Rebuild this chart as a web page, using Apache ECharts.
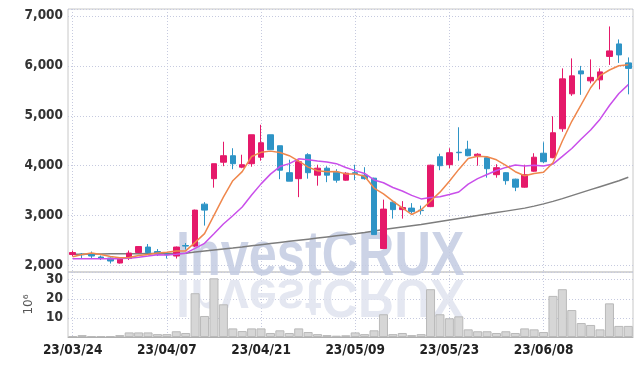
<!DOCTYPE html>
<html><head><meta charset="utf-8">
<script src="https://cdn.jsdelivr.net/npm/echarts@6/dist/echarts.min.js"></script>
<style>html,body{margin:0;padding:0;background:#fff}#c{width:642px;height:366px}</style>
</head><body><div id="c"></div>
<script>
const dates = ['23/03/24','23/03/27','23/03/28','23/03/29','23/03/30','23/03/31','23/04/03','23/04/04','23/04/05','23/04/06',
'23/04/07','23/04/10','23/04/11','23/04/12','23/04/13','23/04/14','23/04/17','23/04/18','23/04/19','23/04/20',
'23/04/21','23/04/24','23/04/25','23/04/26','23/04/27','23/04/28','23/05/02','23/05/03','23/05/04','23/05/08',
'23/05/09','23/05/10','23/05/11','23/05/12','23/05/15','23/05/16','23/05/17','23/05/18','23/05/19','23/05/22',
'23/05/23','23/05/24','23/05/25','23/05/26','23/05/30','23/05/31','23/06/01','23/06/02','23/06/05','23/06/07',
'23/06/08','23/06/09','23/06/12','23/06/13','23/06/14','23/06/15','23/06/16','23/06/19','23/06/20','23/06/21'];
const opens = [2220,2230,2230,2170,2150,2050,2140,2260,2370,2280,2230,2190,2400,2390,3230,3740,4070,4200,3970,4040,
4170,4620,4400,3860,3740,4220,3810,3950,3870,3710,3860,3810,3750,2340,3270,3120,3150,3110,3180,4180,
4020,4270,4330,4200,4160,3820,3860,3730,3570,3890,4250,4160,4740,5440,5900,5700,5720,6190,6440,6060];
const closes = [2260,2215,2190,2150,2090,2130,2250,2380,2260,2230,2215,2370,2390,3110,3110,4040,4200,4040,4020,4620,
4460,4320,3910,3690,4080,3860,3950,3810,3710,3850,3840,3740,2620,3130,3120,3160,3080,3100,4010,4000,
4260,4260,4200,4230,3940,3960,3700,3570,3820,4170,4080,4660,5740,5800,5840,5770,5880,6300,6220,5950];
const lows = [2180,2130,2140,2110,2040,2040,2110,2250,2250,2190,2140,2140,2320,2370,2800,3560,3990,3930,3950,3980,
4100,4320,3730,3690,3370,3740,3600,3670,3660,3700,3710,3720,2620,2340,2940,2940,3040,3020,3170,3910,
3950,4100,4190,4000,3760,3760,3620,3490,3560,3880,4050,4150,4680,5400,5420,5650,5530,6020,6060,5430];
const highs = [2300,2250,2280,2200,2160,2140,2300,2390,2430,2330,2250,2380,2450,3120,3270,4040,4480,4350,4220,4620,
4820,4620,4400,4120,4120,4250,4020,3990,3930,3870,4020,3970,3760,3320,3280,3290,3250,3200,4020,4240,
4350,4770,4500,4250,4170,4030,3870,3740,4020,4250,4470,4990,5950,6150,6000,6130,5950,6790,6530,6170];
const volumes = [0.5,1.0,0.5,0.5,0.4,1.0,2.4,2.4,2.4,1.5,1.5,3.0,2.1,22.9,11.0,30.7,17.1,4.5,3.1,4.5,
4.5,2.1,3.5,2.1,4.5,2.6,1.5,1.0,0.7,0.9,2.4,1.5,3.5,11.9,1.5,2.1,1.0,1.5,25.0,11.9,
9.8,10.8,4.0,3.0,3.0,2.1,3.0,2.1,4.5,4.0,2.6,21.5,25.0,14.1,7.3,6.3,4.0,17.6,5.8,5.8];
const ma5 = [2175,2220,2250,2220,2181,2155,2162,2200,2222,2250,2267,2291,2293,2463,2639,3004,3370,3700,3882,4184,
4268,4292,4266,4200,4092,3972,3898,3878,3882,3836,3832,3790,3552,3436,3290,3154,3022,3118,3294,3470,
3690,3926,4146,4190,4178,4118,4006,3880,3798,3844,3868,4060,4494,4890,5224,5562,5806,5918,6002,6024];
const ma10 = [2135,2135,2135,2135,2135,2138,2145,2165,2190,2216,2211,2227,2247,2343,2445,2636,2831,2997,3173,3412,
3636,3831,3983,4041,4138,4120,4095,4072,4041,3964,3902,3844,3715,3659,3563,3493,3406,3335,3365,3380,
3422,3474,3632,3742,3824,3904,3966,4013,3994,4011,3993,4033,4187,4344,4534,4715,4933,5206,5446,5624];
const ma60 = [2225,2228,2231,2233,2235,2236,2237,2238,2239,2240,2241,2242,2248,2270,2290,2310,2330,2350,2372,2395,
2418,2440,2462,2484,2506,2528,2550,2572,2594,2616,2638,2660,2690,2720,2745,2770,2795,2820,2850,2880,
2910,2940,2970,3000,3030,3060,3090,3120,3150,3190,3235,3285,3340,3400,3460,3520,3580,3640,3700,3770];
const watermark = 'InvestCRUX';
const volUnit = '10\u2076';

const candles = dates.map((d, i) => [opens[i], closes[i], lows[i], highs[i]]);
const FONT = '"DejaVu Sans Condensed", "Liberation Sans", sans-serif';
const UP = '#e5196a', DOWN = '#2e94c6';
const gridLine = {show: true, lineStyle: {color: '#c6cadf', width: 1, type: [1, 2]}};
const vSplit = {show: true, interval: 9, alignWithLabel: true, lineStyle: {color: '#c6cadf', width: 1, type: [1, 2]}};

const chart = echarts.init(document.getElementById('c'), null, {renderer: 'canvas'});
chart.setOption({
  animation: false,
  backgroundColor: '#ffffff',
  grid: [
    {left: 68, right: 9, top: 9, height: 263, show: true, borderColor: '#c8c8c8', borderWidth: 1, backgroundColor: 'transparent'},
    {left: 68, right: 9, top: 272, height: 65, show: true, borderColor: '#c8c8c8', borderWidth: 1, backgroundColor: 'transparent'}
  ],
  xAxis: [
    {type: 'category', gridIndex: 0, data: dates, boundaryGap: true,
     axisLine: {show: false}, axisTick: {show: false}, axisLabel: {show: false}, splitLine: vSplit},
    {type: 'category', gridIndex: 1, data: dates, boundaryGap: true,
     axisLine: {show: true, lineStyle: {color: '#b0b0b0'}}, axisTick: {show: false},
     axisLabel: {interval: 9, color: '#222', fontFamily: FONT, fontWeight: 'bold', fontSize: 13.5, margin: 6},
     splitLine: vSplit}
  ],
  yAxis: [
    {type: 'value', gridIndex: 0, min: 1870, max: 7140, splitNumber: 5,
     axisLine: {show: false}, axisTick: {show: false},
     axisLabel: {showMinLabel: false, showMaxLabel: false, color: '#333', fontFamily: FONT, fontWeight: 'bold', fontSize: 13.5, margin: 5,
       formatter: v => v.toLocaleString('en-US')},
     splitLine: gridLine},
    {type: 'value', gridIndex: 1, min: 0, max: 34, interval: 10,
     name: volUnit, nameLocation: 'middle', nameGap: 31, nameRotate: 90,
     nameTextStyle: {color: '#555', fontFamily: 'DejaVu Sans', fontSize: 12},
     axisLine: {show: false}, axisTick: {show: false},
     axisLabel: {showMinLabel: false, showMaxLabel: false, color: '#333', fontFamily: FONT, fontWeight: 'bold', fontSize: 13.5, margin: 5},
     splitLine: gridLine}
  ],
  graphic: [
    {type: 'text', x: 176, y: 289, scaleX: 0.8, scaleY: 1, z: 1, silent: true,
     style: {text: watermark, font: 'bold 63px "Liberation Sans"', fill: '#c3cbe2', opacity: 0.85, verticalAlign: 'bottom', align: 'left'}},
    {type: 'text', x: 176, y: 268, scaleX: 0.8, scaleY: -0.85, z: 1, silent: true,
     style: {text: watermark, font: 'bold 63px "Liberation Sans"', fill: '#dfe3ee', opacity: 0.85, verticalAlign: 'bottom', align: 'left'}}
  ],
  series: [
    {type: 'bar', xAxisIndex: 1, yAxisIndex: 1, data: volumes, barCategoryGap: '4%',
     itemStyle: {color: '#d6d6d6', borderColor: '#b9b9b9', borderWidth: 1}, z: 3},
    {type: 'line', xAxisIndex: 0, yAxisIndex: 0, data: ma60, symbol: 'none', lineStyle: {color: '#7d7d7d', width: 1.5}, z: 3},
    {type: 'candlestick', xAxisIndex: 0, yAxisIndex: 0, data: candles, barWidth: 6,
     itemStyle: {color: UP, color0: DOWN, borderColor: UP, borderColor0: DOWN, borderWidth: 1}, z: 4},
    {type: 'line', xAxisIndex: 0, yAxisIndex: 0, data: ma10, symbol: 'none', lineStyle: {color: '#c94fea', width: 1.5}, z: 5},
    {type: 'line', xAxisIndex: 0, yAxisIndex: 0, data: ma5, symbol: 'none', lineStyle: {color: '#ef874c', width: 1.5}, z: 5}
  ]
});
</script>
</body></html>
